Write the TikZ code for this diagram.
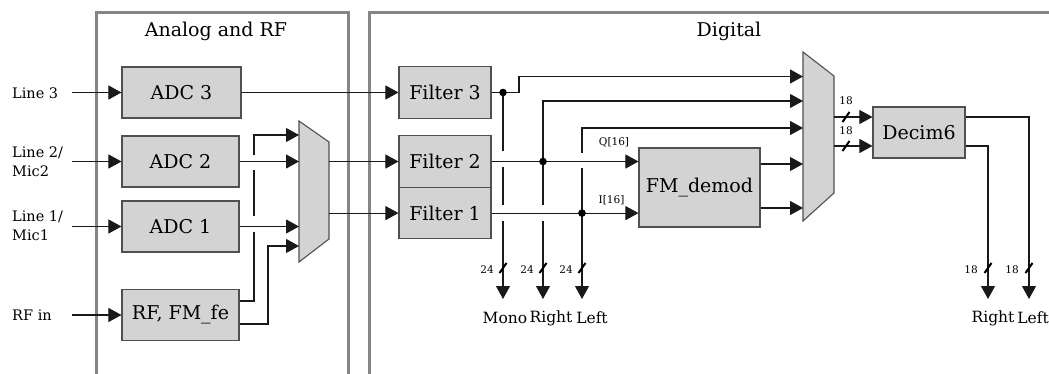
\documentclass[tikz,border=0pt]{standalone}
\usepackage{fontspec}
\setmainfont{DejaVu Serif}
\usetikzlibrary{arrows.meta}
\definecolor{boxfill}{RGB}{211,211,211}
\definecolor{boxline}{RGB}{80,80,80}
\definecolor{panelgray}{RGB}{133,133,133}
\definecolor{wire}{RGB}{25,25,25}
\begin{document}
\begin{tikzpicture}[x=1pt,y=-1pt,
  blk/.style={draw=boxline, fill=boxfill, line width=1.1pt, minimum height=51pt, inner sep=0pt, font=\fontsize{19}{22}\selectfont},
  mux/.style={draw=boxline, fill=boxfill, line width=1.1pt},
  sig/.style={line width=1.05pt, draw=wire},
  arr/.style={sig, -{Triangle[length=13pt,width=14pt]}},
  panel/.style={draw=panelgray, line width=3pt},
  title/.style={font=\fontsize{19}{22}\selectfont, inner sep=0pt},
  lbl/.style={font=\fontsize{14.5}{19}\selectfont, align=left, anchor=west, inner sep=0pt},
  outlbl/.style={font=\fontsize{15.5}{17}\selectfont, inner sep=0pt},
  small/.style={font=\fontsize{10.5}{12}\selectfont, inner sep=0pt},
  busmark/.pic={\draw[line width=2pt] (-3.5,5) -- (3.5,-5);},
  jdot/.style={fill=black}
]
\useasboundingbox (0,0) rectangle (1049,374);
\clip (0,0) rectangle (1049,374);

% panels
\draw[panel] (96,390) -- (96,13) -- (348,13) -- (348,390);
\draw[panel] (369,390) -- (369,13) -- (1070,13);
\node[title] (tA) at (216,31) {Analog and RF};
\node[title] (tD) at (729,31) {Digital};

% coordinates
\coordinate (in3) at (72,92.5);
\coordinate (in2) at (72,161.5);
\coordinate (in1) at (72,226.5);
\coordinate (inrf) at (72,315);
\coordinate (m1a) at (299,135);
\coordinate (m1b) at (299,161.5);
\coordinate (m1c) at (299,226.5);
\coordinate (m1d) at (299,246);
\coordinate (m1o2) at (329,161.5);
\coordinate (m1o1) at (329,213.1);
\coordinate (m2a) at (803,76.5);
\coordinate (m2b) at (803,101);
\coordinate (m2c) at (803,128);
\coordinate (m2d) at (803,164);
\coordinate (m2e) at (803,208);
\coordinate (m2o1) at (834,117);
\coordinate (m2o2) at (834,146);
\coordinate (dM) at (503,92.5);
\coordinate (dR) at (543,161.5);
\coordinate (dL) at (582,213.1);
\coordinate (oM) at (503,299);
\coordinate (oR) at (543,299);
\coordinate (oL) at (582,299);
\coordinate (oR2) at (988,299);
\coordinate (oL2) at (1029,299);

% input labels
\node[lbl] (l3) at (12,93) {Line 3};
\node[lbl] (l2) at (12,162) {Line 2/\\Mic2};
\node[lbl] (l1) at (12,226) {Line 1/\\Mic1};
\node[lbl] (lrf) at (12,315) {RF in};

% blocks
\node[blk, minimum width=119pt] (adc3) at (181.5,92.5) {ADC 3};
\node[blk, minimum width=117pt] (adc2) at (180.5,161.5) {ADC 2};
\node[blk, minimum width=117pt] (adc1) at (180.5,226.5) {ADC 1};
\node[blk, minimum width=117pt] (rf) at (180.5,315) {RF, FM\_fe};
\node[blk, minimum width=92pt, minimum height=51.6pt] (f3) at (445,92.5) {Filter 3};
\node[blk, minimum width=92pt, minimum height=51.6pt] (f2) at (445,161.5) {Filter 2};
\node[blk, minimum width=92pt, minimum height=51.6pt] (f1) at (445,213.1) {Filter 1};
\node[blk, minimum width=121pt, minimum height=79pt] (fm) at (699.5,187.5) {FM\_demod};
\node[blk, minimum width=92pt] (dec) at (919,132.5) {Decim6};

% muxes
\draw[mux] (299,121) -- (329,142) -- (329,239) -- (299,262) -- cycle;
\draw[mux] (803,52) -- (834,76) -- (834,193) -- (803,221) -- cycle;

% inputs
\draw[arr] (in3) -- (adc3.west);
\draw[arr] (in2) -- (adc2.west);
\draw[arr] (in1) -- (adc1.west);
\draw[arr] (inrf) -- (rf.west);

% analog to mux1
\draw[arr] (adc2.east) -- (m1b);
\draw[arr] (adc1.east) -- (m1c);
\draw[sig] ([yshift=14pt]rf.east) -- (254,301) -- (254,232);
\draw[sig] (254,216) -- (254,170);
\draw[arr] (254,155) -- (254,135) -- (m1a);
\draw[arr] ([yshift=-9pt]rf.east) -- (268,324) -- (268,246) -- (m1d);

% mux1 to filters
\draw[arr] (m1o2) -- (f2.west);
\draw[arr] (m1o1) -- (f1.west);
\draw[arr] (adc3.east) -- (f3.west);

% filter 3 / mono
\draw[arr] (f3.east) -- (519,92.5) -- (519,76.5) -- (m2a);
\draw[sig] (dM) -- (503,151);
\draw[sig] (503,167) -- (503,205);
\draw[arr] (503,221) -- (oM);

% filter 2 / right
\draw[arr] (f2.east) -- (fm.west |- f2.east);
\draw[arr] (dR) -- (543,101) -- (m2b);
\draw[sig] (dR) -- (543,205);
\draw[arr] (543,221) -- (oR);

% filter 1 / left
\draw[arr] (f1.east) -- (fm.west |- f1.east);
\draw[sig] (dL) -- (582,168);
\draw[arr] (582,153) -- (582,128) -- (m2c);
\draw[arr] (dL) -- (oL);

\fill[jdot] (dM) circle (3.8);
\fill[jdot] (dR) circle (3.8);
\fill[jdot] (dL) circle (3.8);

\node[small] (q16) at (614,142) {Q[16]};
\node[small] (i16) at (611.5,200) {I[16]};

% fm to mux2
\draw[arr] (fm.east |- m2d) -- (m2d);
\draw[arr] (fm.east |- m2e) -- (m2e);

% mux2 to decim
\draw[arr] (m2o1) -- (dec.west |- m2o1);
\draw[arr] (m2o2) -- (dec.west |- m2o2);
\pic at (846,117) {busmark};
\pic at (846,146) {busmark};
\node[small] (b1) at (846,101) {18};
\node[small] (b2) at (846,131) {18};

% decim outputs
\draw[arr] (dec.east |- m2o1) -- (1029,117) -- (oL2);
\draw[arr] (dec.east |- m2o2) -- (988,146) -- (oR2);

% bus marks on outputs
\pic at (503,268) {busmark};
\pic at (543,268) {busmark};
\pic at (582,268) {busmark};
\pic at (988,268) {busmark};
\pic at (1029,268) {busmark};
\node[small] (n1) at (487,270) {24};
\node[small] (n2) at (527,270) {24};
\node[small] (n3) at (566,270) {24};
\node[small] (n4) at (971,270) {18};
\node[small] (n5) at (1012,270) {18};

% output labels
\node[outlbl] (tm) at (505,318) {Mono};
\node[outlbl] (tr) at (551,318) {Right};
\node[outlbl] (tl) at (592,318) {Left};
\node[outlbl] (tr2) at (993,318) {Right};
\node[outlbl] (tl2) at (1033,318) {Left};
\end{tikzpicture}
\end{document}
